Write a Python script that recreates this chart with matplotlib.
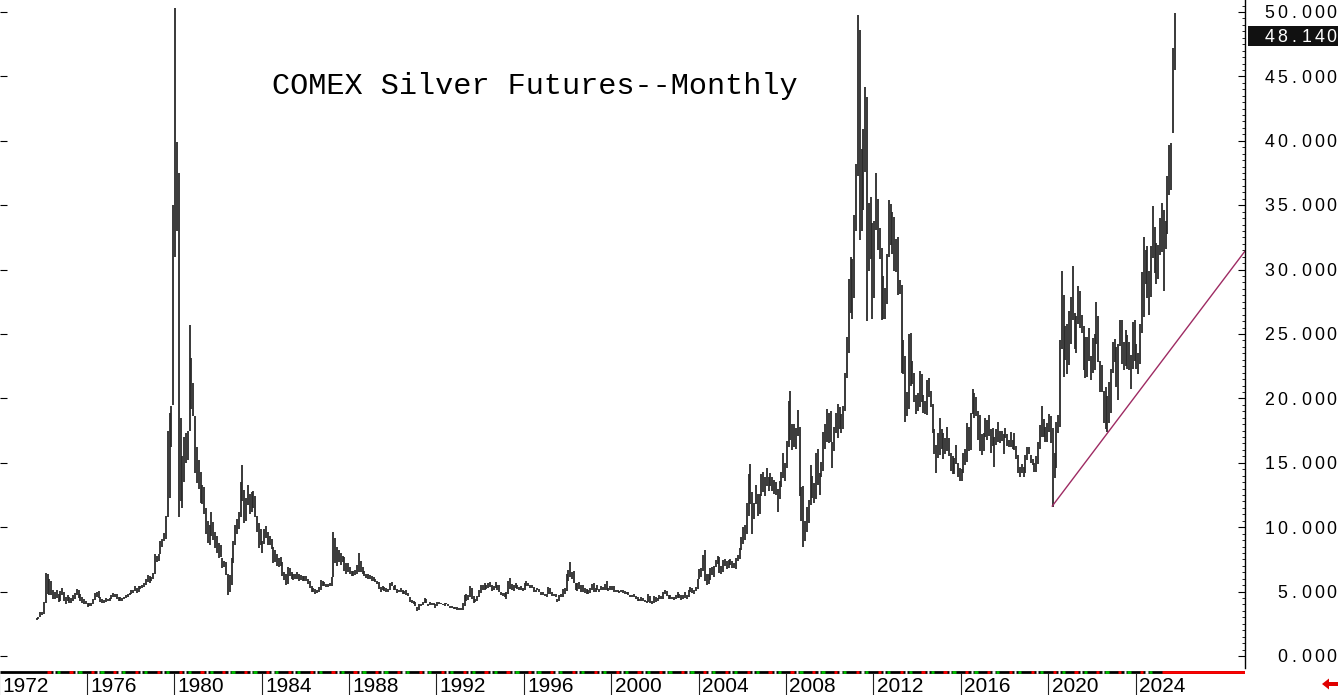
import matplotlib
matplotlib.use("Agg")
import matplotlib.pyplot as plt
import matplotlib.transforms as mtransforms
from matplotlib.patches import Rectangle, Polygon
import numpy as np
import pandas as pd

# ---------------- data (monthly high / low, COMEX silver, USD/oz) ----------------
START_MONTH = "1973-09-01"
HIGH = [
    2.98, 3.02, 3.40, 3.45,                                                  # 1973 Sep-Dec
    4.20, 6.45, 6.40, 6.00, 5.85, 5.10, 5.00, 5.10, 4.80, 5.05, 5.30, 5.00,  # 1974
    4.60, 4.70, 4.60, 4.50, 4.70, 4.90, 5.20, 5.10, 4.80, 4.60, 4.40, 4.30,  # 1975
    4.15, 4.15, 4.10, 4.40, 4.90, 5.00, 5.05, 4.60, 4.45, 4.35, 4.50, 4.45,  # 1976
    4.50, 4.75, 4.87, 4.85, 4.80, 4.60, 4.55, 4.50, 4.60, 4.75, 4.80, 4.90,  # 1977
    5.10, 5.15, 5.45, 5.25, 5.40, 5.45, 5.55, 5.70, 6.00, 6.30, 6.20, 6.10,  # 1978
    6.45, 7.90, 7.80, 7.95, 8.90, 9.05, 9.55, 10.90, 17.50, 18.90, 19.40, 35.00,  # 1979
    50.30, 39.90, 37.50, 18.50, 15.50, 17.00, 17.30, 17.50, 25.70, 23.10, 21.20, 18.60,  # 1980
    16.20, 15.20, 14.30, 13.30, 13.10, 11.50, 10.50, 10.20, 11.20, 10.40, 9.60, 9.30,  # 1981
    8.80, 8.60, 7.60, 7.40, 7.30, 6.40, 6.30, 7.60, 8.90, 10.20, 10.60, 11.20,  # 1982
    13.50, 14.80, 12.90, 12.30, 13.30, 12.60, 12.70, 12.80, 12.40, 10.90, 10.30, 9.90,  # 1983
    8.90, 9.90, 10.10, 9.60, 9.30, 9.10, 8.50, 8.20, 7.90, 7.60, 7.70, 7.30,  # 1984
    6.50, 6.40, 6.90, 6.80, 6.50, 6.40, 6.40, 6.50, 6.40, 6.30, 6.25, 6.20,  # 1985
    6.20, 6.00, 5.80, 5.40, 5.30, 5.20, 5.10, 5.35, 5.90, 5.80, 5.75, 5.60,  # 1986
    5.60, 5.65, 6.10, 9.65, 9.20, 8.50, 8.20, 8.00, 7.80, 7.70, 7.20, 7.20,  # 1987
    6.90, 6.60, 6.60, 6.70, 7.10, 8.00, 7.40, 6.90, 6.60, 6.40, 6.40, 6.30,  # 1988
    6.20, 6.10, 6.00, 5.85, 5.75, 5.35, 5.40, 5.35, 5.25, 5.20, 5.65, 5.75,  # 1989
    5.40, 5.50, 5.20, 5.15, 5.25, 5.10, 5.05, 5.10, 4.90, 4.60, 4.35, 4.30,  # 1990
    4.20, 3.80, 4.00, 4.05, 4.20, 4.50, 4.40, 4.00, 4.20, 4.15, 4.10, 4.00,  # 1991
    4.20, 4.20, 4.15, 4.05, 4.10, 4.15, 4.00, 3.85, 3.85, 3.80, 3.80, 3.80,  # 1992
    3.75, 3.70, 4.10, 4.70, 4.85, 4.75, 5.40, 5.25, 4.65, 4.40, 4.65, 5.15,  # 1993
    5.50, 5.55, 5.65, 5.55, 5.70, 5.75, 5.55, 5.40, 5.75, 5.55, 5.50, 4.95,  # 1994
    4.90, 4.90, 4.95, 5.85, 6.05, 5.60, 5.50, 5.65, 5.55, 5.35, 5.45, 5.30,  # 1995
    5.70, 5.85, 5.70, 5.50, 5.50, 5.35, 5.15, 5.25, 5.20, 5.00, 4.95, 4.85,  # 1996
    4.85, 5.35, 5.25, 4.95, 4.85, 4.80, 4.45, 4.70, 4.85, 5.20, 5.25, 6.35,  # 1997
    6.65, 7.30, 6.50, 6.60, 5.70, 5.70, 5.75, 5.50, 5.50, 5.30, 5.20, 5.10,  # 1998
    5.30, 5.60, 5.65, 5.30, 5.50, 5.20, 5.45, 5.35, 5.60, 5.80, 5.30, 5.45,  # 1999
    5.45, 5.45, 5.15, 5.15, 5.05, 5.10, 5.10, 5.05, 5.00, 4.95, 4.75, 4.75,  # 2000
    4.80, 4.65, 4.55, 4.45, 4.60, 4.50, 4.35, 4.30, 4.80, 4.65, 4.25, 4.65,  # 2001
    4.60, 4.50, 4.70, 4.65, 5.00, 5.10, 5.05, 4.70, 4.75, 4.60, 4.60, 4.75,  # 2002
    4.95, 4.80, 4.70, 4.70, 4.95, 4.75, 5.15, 5.35, 5.30, 5.15, 5.35, 5.95,  # 2003
    6.75, 6.85, 7.85, 8.25, 6.40, 6.40, 6.85, 6.90, 7.00, 7.45, 7.75, 7.70,  # 2004
    6.95, 7.45, 7.55, 7.35, 7.45, 7.50, 7.35, 7.25, 7.60, 7.85, 8.35, 9.25,  # 2005
    10.00, 10.20, 11.90, 14.10, 14.90, 12.70, 11.90, 13.30, 12.60, 12.60, 14.10, 14.30,  # 2006
    13.90, 14.60, 13.90, 14.20, 13.90, 13.70, 13.50, 13.00, 13.60, 14.30, 15.80, 15.00,  # 2007
    16.70, 19.80, 20.60, 18.00, 18.00, 17.70, 19.10, 17.80, 13.10, 13.20, 10.50, 11.60,  # 2008
    12.10, 14.80, 14.00, 13.40, 15.80, 16.10, 14.20, 15.10, 17.40, 18.00, 19.20, 18.90,  # 2009
    19.00, 16.60, 17.80, 18.90, 19.60, 19.30, 18.80, 19.40, 22.00, 24.80, 29.30, 31.00,  # 2010
    30.80, 34.20, 38.20, 49.80, 48.60, 39.40, 40.90, 44.20, 43.40, 35.20, 35.60, 33.60,  # 2011
    33.80, 37.50, 35.50, 33.20, 31.70, 29.50, 28.60, 31.20, 35.40, 35.10, 34.50, 34.10,  # 2012
    32.40, 32.50, 29.20, 28.80, 24.50, 23.30, 20.50, 25.00, 25.10, 22.90, 22.00, 20.30,  # 2013
    20.40, 22.10, 21.90, 20.30, 19.80, 21.40, 21.60, 20.60, 19.60, 17.60, 16.40, 17.30,  # 2014
    18.50, 17.60, 17.30, 16.90, 17.80, 16.90, 15.80, 15.50, 15.40, 16.40, 15.00, 14.60,  # 2015
    14.50, 15.80, 16.10, 18.10, 17.80, 18.90, 20.70, 20.40, 20.10, 19.00, 18.70, 17.20,  # 2016
    17.30, 18.50, 18.30, 18.70, 17.60, 17.70, 17.00, 17.60, 18.20, 17.50, 17.50, 17.20,  # 2017
    17.70, 17.20, 16.80, 17.40, 16.80, 17.30, 16.30, 15.60, 14.70, 14.90, 14.70, 15.60,  # 2018
    16.20, 16.20, 15.60, 15.30, 15.00, 15.50, 16.60, 17.90, 19.40, 18.40, 17.80, 18.10,  # 2019
    18.80, 18.60, 17.70, 15.80, 18.20, 18.70, 24.50, 29.90, 28.00, 25.60, 25.80, 26.80,  # 2020
    27.90, 30.30, 26.60, 26.40, 28.70, 28.30, 26.50, 25.60, 24.80, 24.80, 25.50, 23.30,  # 2021
    24.70, 25.00, 27.50, 26.40, 22.90, 22.60, 20.60, 20.90, 20.20, 21.30, 22.30, 24.40,  # 2022
    24.60, 24.00, 24.20, 26.10, 26.10, 24.40, 25.30, 24.90, 24.40, 23.40, 25.90, 26.10,  # 2023
    24.20, 23.50, 25.80, 29.80, 32.50, 31.50, 31.80, 29.90, 31.80, 34.90, 33.30, 32.10,  # 2024
    31.90, 34.00, 35.20, 34.60, 33.80, 37.30, 39.70, 39.80, 47.20, 49.90,              # 2025 Jan-Oct
]
LOW = [
    2.80, 2.86, 3.00, 3.15,                                                  # 1973 Sep-Dec
    3.30, 4.10, 4.80, 4.70, 4.75, 4.45, 4.40, 4.50, 4.20, 4.30, 4.70, 4.25,  # 1974
    4.00, 4.25, 4.15, 4.15, 4.25, 4.40, 4.70, 4.50, 4.25, 4.15, 4.05, 4.00,  # 1975
    3.83, 3.90, 3.85, 4.05, 4.35, 4.60, 4.50, 4.20, 4.10, 4.15, 4.20, 4.25,  # 1976
    4.30, 4.40, 4.55, 4.55, 4.40, 4.30, 4.25, 4.30, 4.40, 4.50, 4.55, 4.70,  # 1977
    4.80, 4.90, 5.05, 4.90, 4.95, 5.20, 5.25, 5.35, 5.55, 5.75, 5.65, 5.80,  # 1978
    5.95, 6.40, 7.30, 7.40, 7.90, 8.50, 8.95, 9.10, 10.80, 12.30, 16.20, 19.50,  # 1979
    31.00, 33.00, 10.80, 12.00, 11.50, 13.50, 15.00, 15.20, 17.50, 19.20, 18.60, 14.20,  # 1980
    13.40, 13.00, 11.90, 11.80, 11.00, 9.50, 8.80, 8.60, 9.30, 9.00, 8.40, 8.00,  # 1981
    7.60, 7.70, 6.80, 6.90, 6.30, 4.75, 5.00, 5.50, 7.20, 8.60, 9.50, 9.90,  # 1982
    10.80, 12.00, 10.30, 10.50, 11.70, 11.00, 11.20, 11.50, 10.80, 9.60, 8.40, 8.60,  # 1983
    8.00, 8.70, 9.20, 8.60, 8.60, 8.30, 7.20, 7.30, 7.00, 6.90, 7.00, 6.20,  # 1984
    5.90, 5.50, 5.60, 6.20, 6.00, 5.90, 5.95, 6.00, 5.80, 5.90, 5.80, 5.80,  # 1985
    5.80, 5.60, 5.30, 5.00, 4.95, 4.85, 4.90, 4.95, 5.10, 5.40, 5.40, 5.35,  # 1986
    5.35, 5.40, 5.45, 6.10, 7.20, 7.00, 7.30, 7.10, 7.30, 6.60, 6.40, 6.50,  # 1987
    6.35, 6.20, 6.20, 6.30, 6.40, 6.50, 6.50, 6.40, 6.20, 6.05, 6.00, 6.00,  # 1988
    5.80, 5.85, 5.75, 5.60, 5.20, 5.00, 5.10, 5.05, 5.00, 5.00, 5.10, 5.40,  # 1989
    5.15, 5.10, 4.90, 4.95, 4.95, 4.80, 4.80, 4.75, 4.65, 4.20, 4.10, 4.00,  # 1990
    3.85, 3.50, 3.55, 3.85, 3.95, 4.15, 4.10, 3.85, 3.95, 3.95, 3.95, 3.75,  # 1991
    3.90, 4.05, 4.00, 3.95, 3.90, 4.00, 3.85, 3.70, 3.70, 3.65, 3.65, 3.60,  # 1992
    3.60, 3.55, 3.55, 3.90, 4.25, 4.35, 4.60, 4.40, 4.10, 4.20, 4.30, 4.60,  # 1993
    4.90, 5.15, 5.15, 5.20, 5.25, 5.35, 5.05, 5.10, 5.25, 5.15, 4.95, 4.70,  # 1994
    4.65, 4.55, 4.40, 4.80, 5.20, 5.10, 5.05, 5.25, 5.20, 5.15, 5.15, 5.05,  # 1995
    5.15, 5.40, 5.40, 5.30, 5.25, 4.95, 4.95, 5.10, 4.95, 4.75, 4.70, 4.65,  # 1996
    4.55, 4.85, 4.85, 4.65, 4.65, 4.55, 4.20, 4.30, 4.55, 4.60, 4.85, 5.05,  # 1997
    5.85, 6.10, 5.95, 5.65, 5.10, 5.05, 5.20, 4.95, 4.95, 4.90, 4.85, 4.85,  # 1998
    4.90, 5.10, 4.95, 4.95, 5.10, 4.95, 5.15, 5.10, 5.10, 5.10, 5.05, 5.10,  # 1999
    5.10, 5.00, 4.95, 4.95, 4.90, 4.95, 4.90, 4.85, 4.80, 4.70, 4.60, 4.55,  # 2000
    4.55, 4.45, 4.30, 4.30, 4.30, 4.25, 4.20, 4.10, 4.20, 4.10, 4.05, 4.15,  # 2001
    4.20, 4.25, 4.40, 4.45, 4.45, 4.80, 4.65, 4.45, 4.45, 4.40, 4.35, 4.45,  # 2002
    4.50, 4.50, 4.35, 4.45, 4.50, 4.45, 4.55, 4.95, 4.90, 4.85, 5.05, 5.20,  # 2003
    5.95, 6.10, 6.60, 5.85, 5.50, 5.60, 5.90, 6.30, 6.15, 6.90, 7.15, 6.45,  # 2004
    6.35, 6.55, 7.00, 6.75, 6.85, 7.05, 6.85, 6.85, 6.75, 7.40, 7.50, 8.20,  # 2005
    8.70, 9.00, 9.50, 10.90, 11.80, 9.50, 10.60, 11.80, 10.90, 11.00, 12.40, 12.70,  # 2006
    12.40, 13.20, 12.80, 13.20, 12.80, 12.60, 12.50, 11.20, 12.20, 13.10, 13.80, 13.60,  # 2007
    14.60, 16.20, 16.80, 16.00, 16.20, 16.10, 17.10, 12.40, 10.50, 8.45, 8.90, 9.60,  # 2008
    10.30, 11.70, 12.30, 11.90, 12.20, 13.30, 12.50, 13.90, 14.40, 16.10, 16.60, 16.50,  # 2009
    16.60, 14.60, 15.90, 17.30, 16.90, 17.60, 17.30, 17.60, 19.00, 21.60, 23.50, 26.60,  # 2010
    26.20, 27.80, 33.00, 37.30, 32.30, 33.00, 34.60, 37.60, 26.00, 29.90, 30.80, 26.20,  # 2011
    27.80, 33.10, 31.50, 30.80, 26.10, 26.20, 26.20, 27.30, 31.00, 31.90, 31.20, 29.90,  # 2012
    29.80, 28.00, 28.10, 22.00, 21.90, 18.20, 18.60, 19.20, 21.00, 21.10, 19.70, 18.80,  # 2013
    19.00, 19.30, 19.70, 18.90, 18.80, 18.70, 20.10, 19.30, 17.30, 15.70, 14.20, 15.40,  # 2014
    15.60, 16.10, 15.30, 15.70, 15.90, 15.50, 14.40, 14.10, 14.10, 14.90, 13.90, 13.60,  # 2015
    13.60, 14.20, 14.80, 15.10, 15.90, 16.00, 18.80, 18.50, 18.60, 16.80, 15.90, 15.60,  # 2016
    15.90, 17.00, 16.80, 17.10, 15.80, 16.30, 14.70, 16.40, 16.60, 16.50, 16.70, 15.70,  # 2017
    16.90, 16.30, 16.20, 16.20, 16.10, 16.00, 15.30, 14.20, 13.90, 14.20, 13.90, 14.20,  # 2018
    15.20, 15.70, 15.00, 14.80, 14.30, 14.30, 14.90, 16.10, 17.00, 17.00, 16.60, 16.60,  # 2019
    17.40, 16.50, 11.60, 13.80, 14.60, 17.30, 17.80, 23.80, 21.70, 23.00, 21.90, 22.60,  # 2020
    24.20, 26.10, 23.80, 23.50, 25.80, 25.50, 25.10, 22.20, 21.60, 21.70, 22.90, 21.40,  # 2021
    22.00, 22.20, 24.20, 22.80, 20.50, 20.50, 18.10, 17.60, 17.40, 18.10, 18.90, 22.00,  # 2022
    22.80, 20.90, 19.90, 24.10, 22.70, 22.20, 22.50, 22.30, 22.20, 20.70, 22.30, 22.90,  # 2023
    22.30, 21.90, 22.70, 25.10, 26.30, 28.90, 27.80, 26.50, 27.90, 30.90, 29.70, 28.90,  # 2024
    29.30, 31.10, 31.40, 28.30, 31.60, 32.80, 35.80, 36.20, 40.60, 45.50,              # 2025 Jan-Oct
]
LAST_PRICE = 48.140

# trendline anchor points (Mar-2020 low, Sep-2022 low)
TREND_X = [2020.17, 2022.71]
TREND_Y = [11.60, 17.30]

Y_TICKS = [0, 5, 10, 15, 20, 25, 30, 35, 40, 45, 50]
YEAR_LABELS = [1972, 1976, 1980, 1984, 1988, 1992, 1996, 2000, 2004, 2008, 2012, 2016, 2020, 2024]

TITLE = "COMEX Silver Futures--Monthly"

# ---------------- figure ----------------
W, H = 1340, 695
fig = plt.figure(figsize=(W / 100, H / 100), dpi=100)
fig.patch.set_facecolor("white")

ax_right_px = 1245
ax_bottom_px = 668
ax = fig.add_axes([0, (H - ax_bottom_px) / H, ax_right_px / W, ax_bottom_px / H])
X0 = 1972.03
X1 = X0 + ax_right_px / 21.85
ax.set_xlim(X0, X1)
ax.set_ylim(-0.93, 50.93)

dates = pd.date_range(START_MONTH, periods=len(HIGH), freq="MS")
xpos = dates.year + (dates.month - 1) / 12 + 1 / 24
ax.vlines(xpos, LOW, HIGH, colors="#2a2a2a", linewidth=1.3)

# trendline from the 2020 low, extended to the right edge
slope = (TREND_Y[1] - TREND_Y[0]) / (TREND_X[1] - TREND_X[0])
x_end = X1 + 0.5
ax.plot([TREND_X[0], x_end], [TREND_Y[0], TREND_Y[0] + slope * (x_end - TREND_X[0])],
        color="#9e2b63", linewidth=1.0, solid_capstyle="butt")

# spines / ticks
for s in ["top", "bottom", "left"]:
    ax.spines[s].set_visible(False)
ax.spines["right"].set_color("black")
ax.spines["right"].set_linewidth(1.0)
ax.set_xticks([])
ax.yaxis.set_ticks_position("both")
ax.set_yticks(Y_TICKS)
ax.set_yticks(np.arange(0, 51, 0.5), minor=True)
ax.tick_params(axis="y", which="major", direction="in", length=5, width=0.8,
               left=True, right=True, labelleft=False, labelright=False, color="black")
ax.tick_params(axis="y", which="minor", direction="in", length=2.5, width=0.6,
               left=False, right=True, color="black")

# right-side price labels, fixed-pitch characters
ytrans = ax.get_yaxis_transform()
PITCH = 12.4
RIGHT_CENTER = 1331.5


def pitch_label(value, color="black", z=3):
    s = f"{value:.3f}"
    n = len(s)
    base = mtransforms.offset_copy(ytrans, fig=fig, x=0, y=-6.3, units="dots")
    for i, ch in enumerate(s):
        xc = (RIGHT_CENTER - (n - 1 - i) * PITCH) / ax_right_px
        ax.text(xc, value, ch, transform=base, ha="center", va="baseline",
                fontsize=12.8, family="Liberation Sans", color=color, clip_on=False, zorder=z)


for v in Y_TICKS:
    pitch_label(v)

# last price highlight box
box_h = 20 / (ax_bottom_px / (50.93 + 0.93))
ax.add_patch(Rectangle((1248 / ax_right_px, LAST_PRICE - box_h / 2), 90 / ax_right_px, box_h,
                       transform=ytrans, facecolor="#111111", edgecolor="none",
                       clip_on=False, zorder=5))
pitch_label(LAST_PRICE, color="white", z=6)

# title
fig.text(272 / W, 1 - 94 / H, TITLE, ha="left", va="baseline",
         fontsize=21.8, family="Liberation Mono", color="black")

# ---------------- bottom date strip ----------------
axb = fig.add_axes([0, 0, ax_right_px / W, (H - ax_bottom_px) / H])
axb.set_xlim(X0, X1)
axb.set_ylim(H - ax_bottom_px, 0)   # pixel rows below the plot, top = 0
axb.axis("off")
axb.plot([X0, X1], [3.5, 3.5], color="black", linewidth=2.0, solid_capstyle="butt")
for yr in range(1974, 2025):
    axb.plot([yr + 0.20, yr + 0.35], [3.5, 3.5], color="#ff0000", linewidth=2.0, solid_capstyle="butt")
    axb.plot([yr + 0.45, yr + 0.55], [3.5, 3.5], color="white", linewidth=2.0, solid_capstyle="butt")
    axb.plot([yr + 0.62, yr + 0.77], [3.5, 3.5], color="#00c000", linewidth=2.0, solid_capstyle="butt")
axb.plot([2025.2, X1], [3.5, 3.5], color="#ff0000", linewidth=2.0, solid_capstyle="butt")
for yr in YEAR_LABELS:
    axb.plot([yr, yr], [5.5, 27], color="#222222", linewidth=0.8)
    axb.text(yr + 0.16, 24, str(yr), ha="left", va="baseline", fontsize=15,
             family="Liberation Sans", color="black", clip_on=False)

# small red arrow bottom-right
arrow_px = [(1322, 684), (1329, 678.5), (1329, 682), (1338, 682), (1338, 686), (1329, 686), (1329, 689.5)]
fig.patches.append(Polygon([(x / W, 1 - y / H) for x, y in arrow_px], closed=True,
                           transform=fig.transFigure, facecolor="#e00000", edgecolor="none"))

fig.savefig("out.png", dpi=100)
